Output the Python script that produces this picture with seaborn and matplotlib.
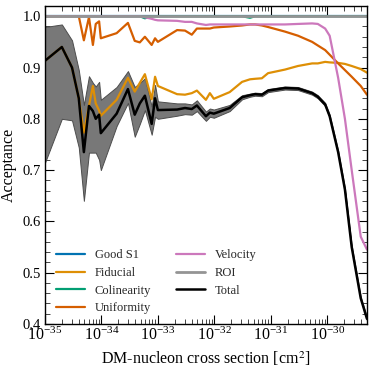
import numpy as np
import pandas as pd
import seaborn as sns
import matplotlib
matplotlib.use("Agg")
import matplotlib.pyplot as plt
from matplotlib.ticker import LogLocator, MultipleLocator, NullFormatter

# log10 of the DM-nucleon cross section [cm^2]
log_xsec = [-35.00, -34.70, -34.52, -34.40, -34.31, -34.22, -34.15, -34.10, -34.04, -34.01,
            -33.73, -33.53, -33.41, -33.32, -33.23, -33.11, -33.05, -33.00, -32.66, -32.52,
            -32.40, -32.31, -32.15, -32.08, -32.01, -31.73, -31.51, -31.37, -31.28, -31.16,
            -31.05, -30.75, -30.52, -30.27, -30.17, -30.04, -29.96, -29.81, -29.69, -29.57,
            -29.41, -29.30]

good_s1 = [1.0] * 42
fiducial = [0.913, 0.940, 0.900, 0.840, 0.773, 0.825, 0.864, 0.830, 0.816, 0.806,
            0.837, 0.880, 0.853, 0.870, 0.887, 0.838, 0.882, 0.864, 0.848, 0.847,
            0.850, 0.855, 0.837, 0.850, 0.839, 0.852, 0.872, 0.877, 0.878, 0.879,
            0.889, 0.896, 0.903, 0.908, 0.908, 0.911, 0.910, 0.909, 0.907, 0.903,
            0.897, 0.890]
colinearity = [1.0] * 14 + [0.996] + [1.0] * 12 + [0.997] + [1.0] * 14
uniformity = [1.0, 1.0, 1.0, 1.0, 0.953, 0.998, 0.944, 0.985, 0.990, 0.957,
              0.967, 0.987, 0.952, 0.949, 0.960, 0.944, 0.957, 0.950, 0.973, 0.972,
              0.964, 0.976, 0.976, 0.976, 0.978, 0.980, 0.982, 0.984, 0.984, 0.982,
              0.979, 0.970, 0.962, 0.950, 0.943, 0.934, 0.925, 0.908, 0.895, 0.882,
              0.864, 0.847]
velocity = [1.0] * 14 + [0.998, 0.995, 0.993, 0.992, 0.991, 0.989,
                         0.989, 0.986, 0.983, 0.984, 0.984, 0.984, 0.984, 0.984, 0.984, 0.984,
                         0.984, 0.984, 0.985, 0.986, 0.985, 0.976, 0.962, 0.880, 0.800, 0.700,
                         0.570, 0.545]
roi = [1.0] * 42
total = [0.913, 0.940, 0.900, 0.840, 0.735, 0.825, 0.815, 0.800, 0.808, 0.772,
         0.810, 0.858, 0.808, 0.830, 0.845, 0.790, 0.840, 0.817, 0.818, 0.821,
         0.819, 0.826, 0.805, 0.812, 0.810, 0.821, 0.842, 0.846, 0.848, 0.847,
         0.855, 0.860, 0.859, 0.850, 0.843, 0.828, 0.805, 0.735, 0.662, 0.550,
         0.450, 0.410]
total_lo = [0.714, 0.800, 0.797, 0.744, 0.640, 0.734, 0.734, 0.734, 0.720, 0.700,
            0.786, 0.831, 0.765, 0.790, 0.817, 0.769, 0.804, 0.800, 0.806, 0.809,
            0.808, 0.815, 0.796, 0.804, 0.802, 0.815, 0.838]
total_hi = [0.979, 0.984, 0.953, 0.895, 0.827, 0.883, 0.870, 0.863, 0.872, 0.837,
            0.862, 0.893, 0.862, 0.870, 0.879, 0.824, 0.866, 0.834, 0.830, 0.830,
            0.828, 0.836, 0.814, 0.820, 0.818, 0.827, 0.846]

labels = ["Good S1", "Fiducial", "Colinearity", "Uniformity", "Velocity", "ROI", "Total"]

sns.set_theme(style="ticks")
plt.rcParams.update({
    "font.family": "serif",
    "font.serif": ["Liberation Serif", "DejaVu Serif"],
    "mathtext.fontset": "stix",
    "xtick.direction": "in",
    "ytick.direction": "in",
    "xtick.top": True,
    "ytick.right": True,
    "axes.edgecolor": "black",
    "axes.linewidth": 1.0,
})

cb = sns.color_palette("colorblind")
colors = [cb[0], cb[1], cb[2], cb[3], cb[4], cb[7], "black"]
widths = [1.6, 1.6, 1.6, 1.6, 1.6, 2.0, 1.8]

x = 10.0 ** np.array(log_xsec)
series = [good_s1, fiducial, colinearity, uniformity, velocity, roi, total]
df = pd.DataFrame({"xsec": x})
for name, vals in zip(labels, series):
    df[name] = vals

fig = plt.figure(figsize=(3.74, 3.74), dpi=100)
ax = fig.add_axes([0.120, 0.134, 0.861, 0.850])

n_band = len(total_lo)
band_lo = list(total_lo) + [v - 0.003 for v in total[n_band:]]
band_hi = list(total_hi) + [v + 0.003 for v in total[n_band:]]
ax.fill_between(x, band_lo, band_hi, facecolor="0.47", edgecolor="0.3",
                linewidth=0.7, zorder=1)

for name, c, lw in zip(labels, colors, widths):
    sns.lineplot(data=df, x="xsec", y=name, color=c, linewidth=lw,
                 label=name, ax=ax, estimator=None, sort=False, zorder=2)

ax.set_xscale("log")
ax.set_xlim(1e-35, 5e-30)
ax.set_ylim(0.4, 1.02)
ax.xaxis.set_major_locator(LogLocator(base=10, numticks=20))
ax.xaxis.set_minor_locator(LogLocator(base=10, subs=np.arange(2, 10), numticks=100))
ax.xaxis.set_minor_formatter(NullFormatter())
ax.yaxis.set_major_locator(MultipleLocator(0.1))
ax.yaxis.set_minor_locator(MultipleLocator(0.02))
ax.tick_params(which="major", length=6.5, width=0.8, colors="black",
               top=True, right=True)
ax.tick_params(which="minor", length=3.5, width=0.6, top=True, right=True)
ax.tick_params(axis="x", which="major", labelsize=11.5, pad=2)
ax.tick_params(axis="y", which="major", labelsize=10.5, pad=3)

ax.set_xlabel("DM-nucleon cross section [cm$^2$]", fontsize=11.5, color="black",
              labelpad=4)
ax.set_ylabel("Acceptance", fontsize=11.5, color="black")

ax.legend(ncol=2, frameon=False, loc="lower left", fontsize=9,
          handlelength=2.3, handletextpad=0.8, columnspacing=2.0,
          labelspacing=0.45, bbox_to_anchor=(0.0, -0.005))

fig.savefig("out.png", dpi=100)
